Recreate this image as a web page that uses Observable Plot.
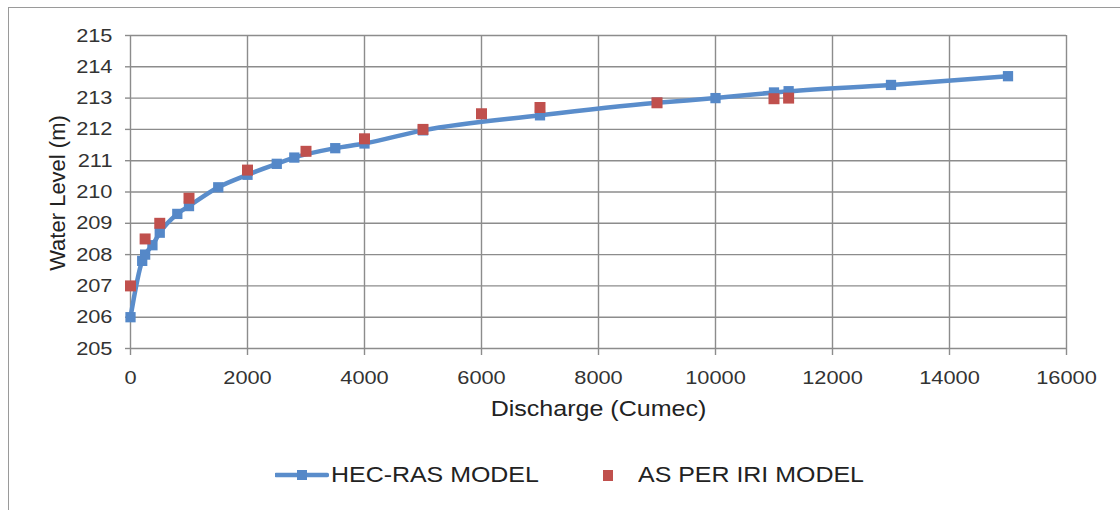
<!DOCTYPE html>
<html>
<head>
<meta charset="utf-8">
<script src="https://cdn.jsdelivr.net/npm/d3@7"></script>
<script src="https://cdn.jsdelivr.net/npm/@observablehq/plot@0.6"></script>
<style>
  body { margin: 0; background: #fff; font-family: "Liberation Sans", Arial, sans-serif; }
  #wrap { position: relative; width: 1120px; height: 510px; overflow: hidden; background: #fff; }
  #frame { position: absolute; left: 8px; top: 7px; width: 1200px; height: 600px;
           border-left: 1.5px solid #9a9a9a; border-top: 1.5px solid #9a9a9a; }
  #chart { position: absolute; left: 0; top: 0; }
  .lg { position: absolute; }
  .lg-text { position: absolute; top: 463px; font-size: 21.5px; line-height: 24px; color: #222;
             white-space: nowrap; transform: scaleX(1.16); transform-origin: left center; }
</style>
</head>
<body>
<div id="wrap">
  <div id="frame"></div>
  <div id="chart"></div>
  <svg class="lg" style="left:275px;top:468px" width="54" height="14">
    <line x1="1" y1="7" x2="52" y2="7" stroke="#5a8dcb" stroke-width="4.5" stroke-linecap="round"></line>
    <rect x="22" y="2" width="10" height="10" fill="#5588c8"></rect>
  </svg>
  <div class="lg-text" style="left:331px">HEC-RAS MODEL</div>
  <svg class="lg" style="left:603px;top:470px" width="10" height="11">
    <rect x="0" y="0" width="10" height="11" fill="#c0504d"></rect>
  </svg>
  <div class="lg-text" style="left:638px">AS PER IRI MODEL</div>
</div>
<script>
// HEC-RAS rating curve: discharge (cumec) vs water level (m)
const hecQ  = [0, 200, 250, 375, 500, 800, 1000, 1500, 2000, 2500, 2800, 3500, 4000, 5000, 7000, 9000, 10000, 11000, 11250, 13000, 15000];
const hecWL = [206.0, 207.8, 208.0, 208.3, 208.7, 209.3, 209.55, 210.15, 210.55, 210.9, 211.1, 211.4, 211.55, 211.97, 212.45, 212.85, 213.0, 213.18, 213.22, 213.42, 213.7];

// Observed levels per IRI model
const iriQ  = [0, 250, 500, 1000, 2000, 3000, 4000, 5000, 6000, 7000, 9000, 11000, 11250];
const iriWL = [207.0, 208.5, 209.0, 209.8, 210.7, 211.3, 211.7, 212.0, 212.5, 212.7, 212.85, 212.98, 213.0];

const xTicks = [0, 2000, 4000, 6000, 8000, 10000, 12000, 14000, 16000];
const yTicks = [205, 206, 207, 208, 209, 210, 211, 212, 213, 214, 215];

const xTitle = "Discharge (Cumec)";
const yTitle = "Water Level (m)";

const hec = hecQ.map((q, i) => ({q, wl: hecWL[i]}));
const iri = iriQ.map((q, i) => ({q, wl: iriWL[i]}));

const gridColor = "#8c8c8c";

const chart = Plot.plot({
  width: 1120,
  height: 430,
  marginLeft: 130,
  marginRight: 54,
  marginTop: 35,
  marginBottom: 82,
  style: { fontFamily: "'Liberation Sans', Arial, sans-serif", fontSize: "18.8px", color: "#333", background: "transparent" },
  x: { domain: [0, 16000] },
  y: { domain: [205, 215] },
  marks: [
    Plot.gridX(xTicks, { stroke: gridColor, strokeOpacity: 1, strokeWidth: 1.4 }),
    Plot.gridY(yTicks, { stroke: gridColor, strokeOpacity: 1, strokeWidth: 1.4 }),
    Plot.axisX(xTicks, { tickSize: 7, tickPadding: 15, stroke: gridColor, strokeWidth: 1.4, fill: "#333",
                         tickFormat: d => `${d}`, label: null }),
    Plot.axisY(yTicks, { tickSize: 5, tickPadding: 13, stroke: gridColor, strokeWidth: 1.4, fill: "#333",
                         tickFormat: d => `${d}`, label: null }),
    Plot.line(hec, { x: "q", y: "wl", stroke: "#5a8dcb", strokeWidth: 4.5, curve: "monotone-x" }),
    Plot.dot(hec, { x: "q", y: "wl", symbol: "square", r: 5.8, fill: "#5588c8" }),
    Plot.dot(iri, { x: "q", y: "wl", symbol: "square", r: 6.2, fill: "#c0504d" }),
    Plot.text([xTitle], { frameAnchor: "bottom", dy: 67, text: d => d, fontSize: 21.6, fill: "#222" })
  ]
});

// widen the horizontal glyph proportions of the labels
chart.querySelectorAll("text").forEach(t => {
  const tr = t.getAttribute("transform") || "";
  t.setAttribute("transform", (tr + " scale(1.16,1)").trim());
});

// vertical axis title, centred on the plot area left of the tick labels
d3.select(chart).append("text")
  .attr("transform", "translate(57,193) rotate(-90)")
  .attr("text-anchor", "middle")
  .attr("dy", "0.35em")
  .attr("font-size", 22)
  .attr("fill", "#222")
  .text(yTitle);

document.getElementById("chart").appendChild(chart);
</script>
</body>
</html>
